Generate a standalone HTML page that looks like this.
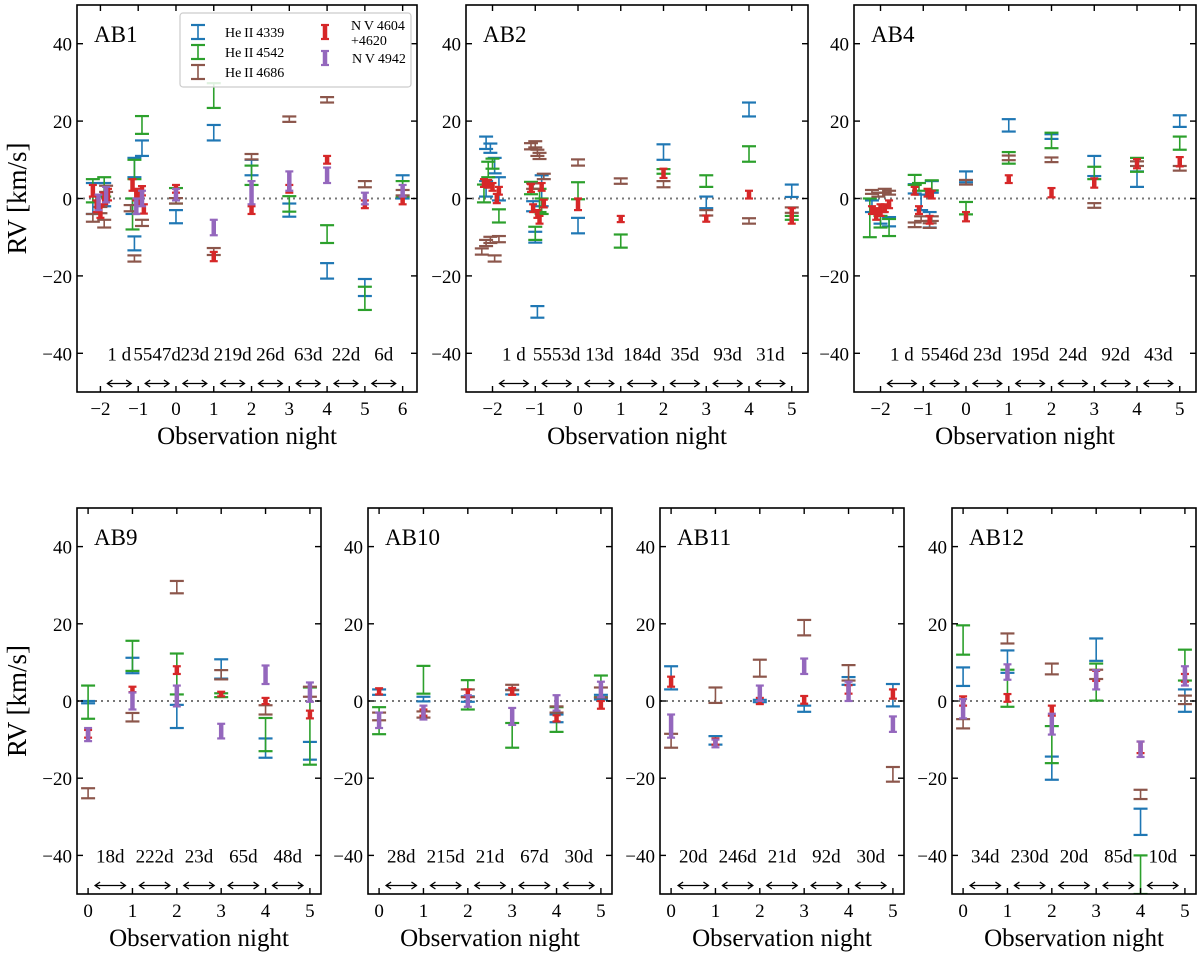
<!DOCTYPE html>
<html><head><meta charset="utf-8">
<style>
html,body{margin:0;padding:0;background:#fff;}
svg{display:block;font-family:"Liberation Serif",serif;}
</style></head>
<body>
<svg id="fig" width="1200" height="957" viewBox="0 0 1200 957" xmlns="http://www.w3.org/2000/svg"></svg>
<script>
// ---- data: [night, rv, err] ----
const ab1Blue=[[-2.2,0,4],[-1.9,1,3],[-1.15,-2,2],[-1.1,8,2.5],[-1.1,-11.6,1.8],[-0.9,13,2],[0,-4.7,1.7],[1,17,2],[2,8,2],[3,-3,1.7],[4,-18.7,2],[5,-23,2.2],[6,3,3]];
const ab1Green=[[-2.2,2,3],[-1.9,3,2.5],[-1.1,7.5,2.5],[-1.15,-4,4],[-0.9,19,2.3],[0,0.7,2],[1,26.6,3.2],[2,6,2.5],[3,-1.4,2],[4,-9.2,2.3],[5,-25.8,3],[6,2.5,2]];
const ab1Brown=[[-2.2,-5,1],[-2.0,-3,0.8],[-1.9,-6.5,1],[-1.85,2.5,0.8],[-1.2,-2.5,0.8],[-1.1,-15.5,0.8],[-0.9,-6.3,0.8],[0,-0.6,0.7],[1,-13.7,0.9],[2,10.8,0.7],[3,20.5,0.7],[4,25.5,0.7],[5,3.7,0.8],[6,1.5,0.7]];
const ab1Red=[[-2.2,2,1.5],[-2.1,-2,1.5],[-2.0,-3.5,1.5],[-1.9,0,1.5],[-1.8,1,1.5],[-1.15,3.5,1.5],[-1.05,1,1.5],[-0.95,0,1.5],[-0.9,2,1.2],[-0.85,-2.7,1.2],[0,2.5,1],[1,-15,1.2],[2,-3,1],[3,2.5,1],[4,10,1],[5,-1.5,1],[6,-0.5,1]];
const ab1Purple=[[-2.05,-1,2],[-1.85,1,2],[-1.05,-2,2],[-0.9,0,2],[0,1,1.5],[1,-7.5,2],[2,1.5,3],[3,4.5,2.5],[4,6,2],[5,0,1.5],[6,2,1.5]];

const ab2Blue=[[-2.15,14.4,1.6],[-2.05,13,1.2],[-2.15,2.5,2],[-1.95,8.5,2],[-1.85,2.5,3],[-1.05,-2,1.3],[-1.0,-10,1.4],[-0.95,-29.3,1.5],[-0.85,2,4],[0,-7,2],[2,12,2],[3,-1,1.5],[4,23,1.8],[5,2,1.6]];
const ab2Green=[[-2.2,1.3,2.3],[-2.1,7.5,2],[-2.0,9,1.3],[-1.85,-4.5,1.7],[-1.1,2.7,1.6],[-1.0,-9,1.7],[-0.9,-0.5,3],[-0.85,-2,2],[0,2,2.2],[1,-11,1.7],[2,7,0.6],[3,4.5,1.5],[4,11.5,2],[5,-5,0.5]];
const ab2Brown=[[-2.25,-13.7,0.8],[-2.15,-11.5,0.8],[-2.05,-10.7,0.8],[-1.95,-15.5,0.8],[-1.85,-10.5,0.8],[-1.1,13.5,0.8],[-1.0,14,0.8],[-0.95,11.8,0.8],[-0.9,11,0.8],[-0.8,5.7,0.7],[-1.05,3.2,0.7],[0,9.3,0.8],[1,4.5,0.7],[2,3.7,0.8],[3,-3.7,0.7],[4,-5.8,0.7],[5,-3,0.7]];
const ab2Red=[[-2.2,4,1],[-2.1,3.8,1],[-2.0,3,1],[-1.9,0,1.2],[-1.85,2,1],[-1.1,2.7,1],[-1.05,-2.5,1],[-0.95,-4,1],[-0.9,-5.5,1],[-0.85,3,1],[-0.8,-1.3,1],[0,-1.5,1.5],[1,-5.3,0.8],[2,6.5,1.2],[3,-5.2,0.8],[4,1,1],[5,-4.5,2]];
const ab2Purple=[];

const ab4Blue=[[-2.2,-2,1.5],[-2.0,-5,1.5],[-1.8,-6,1.2],[-1.2,2.5,1.2],[-1.05,-1,2],[-0.85,-5.5,2],[-0.8,3,1.5],[0,5.6,1.4],[1,18.9,1.6],[2,16,0.6],[3,8.4,2.6],[4,5,2],[5,20,1.5]];
const ab4Green=[[-2.25,-5,5],[-2.0,-6,1.5],[-1.8,-7.5,2.2],[-1.2,4.8,1.3],[-1.1,3,1],[-0.8,3.4,1.3],[0,-2.5,1.6],[1,10.5,1.5],[2,15,2],[3,6.6,1.6],[4,8.7,1.8],[5,14.3,1.7]];
const ab4Brown=[[-2.2,1.7,0.5],[-2.05,1,0.5],[-1.9,2,0.5],[-1.8,1.5,0.5],[-1.2,-6.8,0.6],[-1.05,-5.2,0.6],[-0.85,-7,0.6],[-0.8,-5.2,0.6],[0,4.2,0.6],[1,10.5,0.6],[2,10,0.6],[3,-1.8,0.6],[4,9,0.6],[5,7.8,0.6]];
const ab4Red=[[-2.2,-3,1],[-2.1,-4,1.5],[-2.0,-3,1.5],[-1.9,-2.5,1],[-1.8,-1.5,1],[-1.2,2,1],[-1.1,-3,1],[-0.9,1.5,1],[-0.85,-5.5,1],[-0.8,1,1],[0,-4.7,1.2],[1,5,1],[2,1.5,1.2],[3,4,1.2],[4,9,1.2],[5,9.5,1.2]];
const ab4Purple=[];

const ab9Blue=[[0,-0.3,0.3],[1,9.2,2],[2,-4,3],[3,8.3,2.5],[4,-12.2,2.5],[5,-12.9,2.3]];
const ab9Green=[[0,-0.3,4.3],[1,11.7,3.9],[2,7,5.3],[3,1.5,0.5],[4,-8.7,4.3],[5,-6.5,10]];
const ab9Brown=[[0,-23.9,1.3],[1,-4.2,1.1],[2,29.5,1.6],[3,6.8,1.2],[4,-2.3,1.2],[5,2.4,1.3]];
const ab9Red=[[0,-8.5,1],[1,3,0.7],[2,8,1],[3,1.8,0.6],[4,0,0.8],[5,-3.5,1]];
const ab9Purple=[[0,-8.7,1.7],[1,0,2.2],[2,1.3,2.7],[3,-7.8,1.9],[4,6.8,2.4],[5,2.3,2.5]];

const ab10Blue=[[0,2.3,0.7],[1,0.5,0.6],[2,0.5,0.7],[3,2.3,0.6],[4,-4.5,1],[5,1,0.6]];
const ab10Green=[[0,-5.1,3.5],[1,5.5,3.6],[2,1.6,3.8],[3,-8.9,3.2],[4,-4.8,3.2],[5,3.8,2.8]];
const ab10Brown=[[0,-4,1],[1,-3.5,0.8],[2,2,1],[3,3.5,0.7],[4,-2.2,0.8],[5,2.2,1.3]];
const ab10Red=[[0,2.5,0.8],[1,-3,0.8],[2,2,1],[3,2.5,0.9],[4,-4.5,0.8],[5,-1,1]];
const ab10Purple=[[0,-5,2],[1,-3,1.8],[2,0,1.5],[3,-4,2.2],[4,-0.5,2],[5,3,2]];

const ab11Blue=[[0,6,3],[1,-10.2,1.1],[2,0,0.3],[3,-2,0.8],[4,5.2,1],[5,1.5,2.9]];
const ab11Green=[];
const ab11Brown=[[0,-10.3,1.8],[1,1.5,2],[2,8.5,2.2],[3,19,2],[4,7.3,2],[5,-19,1.9]];
const ab11Red=[[0,5,1.3],[1,-10.5,0.8],[2,0,0.8],[3,0.3,1],[4,3,1.1],[5,1.8,1.2]];
const ab11Purple=[[0,-6.5,3],[1,-11,1],[2,2,2],[3,9,2],[4,2.5,2.5],[5,-6,2]];

const ab12Blue=[[0,6.3,2.4],[1,10.2,2.9],[2,-17.4,3],[3,13.3,2.9],[4,-31.3,3.4],[5,0.1,2.9]];
const ab12Green=[[0,15.8,3.8],[1,3.3,4.8],[2,-11.3,4.8],[3,4.9,4.8],[4,-45,5],[5,9.3,4]];
const ab12Brown=[[0,-5.9,1.2],[1,16.2,1.3],[2,8.3,1.4],[3,6.9,1.2],[4,-24.2,1.2],[5,0.3,1.1]];
const ab12Red=[[0,0,1.2],[1,0.8,1],[2,-2.5,1.3],[3,6.5,1.3],[4,-12,1.5],[5,6,1]];
const ab12Purple=[[0,-2,2.5],[1,7.5,2],[2,-6,2.7],[3,5.5,2.5],[4,-12.5,2],[5,6.5,2.5]];

const ab1Gaps=["1 d","5547d","23d","219d","26d","63d","22d","6d"];
const ab2Gaps=["1 d","5553d","13d","184d","35d","93d","31d"];
const ab4Gaps=["1 d","5546d","23d","195d","24d","92d","43d"];
const ab9Gaps=["18d","222d","23d","65d","48d"];
const ab10Gaps=["28d","215d","21d","67d","30d"];
const ab11Gaps=["20d","246d","21d","92d","30d"];
const ab12Gaps=["34d","230d","20d","85d","10d"];
const yTicks=[-40,-20,0,20,40];

const COL={blue:"#1f77b4",green:"#2ca02c",brown:"#8c564b",red:"#d62728",purple:"#9467bd"};
const NS="http://www.w3.org/2000/svg";
const svg=document.getElementById("fig");
function mk(tag,attrs,parent){const e=document.createElementNS(NS,tag);for(const k in attrs)e.setAttribute(k,attrs[k]);(parent||svg).appendChild(e);return e;}

function panel(cfg){
  const g=mk("g",{});
  
  
  const L=cfg.l,R=cfg.r,T=cfg.t,B=cfg.b;
  const sx=v=>L+(v-cfg.x0)/(cfg.x1-cfg.x0)*(R-L);
  const sy=v=>B-(v+50)/100*(B-T);
  const zl=mk("line",{x1:L,x2:R,y1:sy(0),y2:sy(0),stroke:"#777","stroke-width":2,"stroke-dasharray":"2,4"},g);
  
  
  const series=[["he4339",cfg.blue,COL.blue,false],["he4542",cfg.green,COL.green,false],["he4686",cfg.brown,COL.brown,false],["nv4604",cfg.red,COL.red,true],["nv4942",cfg.purple,COL.purple,true]];
  const clipId="clip"+cfg.name;
  const cp=mk("clipPath",{id:clipId},g);mk("rect",{x:L,y:T,width:R-L,height:B-T},cp);
  series.forEach(([nm,data,c,thick])=>{
    const sg=mk("g",{"clip-path":"url(#"+clipId+")"},g);
    
    
    data.forEach(d=>{
      const x=sx(d[0]),y1=sy(d[1]-d[2]),y2=sy(d[1]+d[2]);
      const eb=mk("g",{},sg);
      
      
      const cw=thick?4:7;
      mk("line",{x1:x,x2:x,y1:y1,y2:y2,stroke:c,"stroke-width":thick?4.5:1.6},eb);
      mk("line",{x1:x-cw,x2:x+cw,y1:y1,y2:y1,stroke:c,"stroke-width":2.2},eb);
      mk("line",{x1:x-cw,x2:x+cw,y1:y2,y2:y2,stroke:c,"stroke-width":2.2},eb);
    });
  });
  const fr=mk("rect",{x:L,y:T,width:R-L,height:B-T,fill:"none",stroke:"#000","stroke-width":1.6},g);
  
  
  for(let v=Math.ceil(cfg.x0);v<=cfg.x1;v++){
    const x=sx(v);
    mk("line",{x1:x,x2:x,y1:B,y2:B-6,stroke:"#000","stroke-width":1.4},g);
    mk("line",{x1:x,x2:x,y1:T,y2:T+6,stroke:"#000","stroke-width":1.4},g);
    const t=mk("text",{x:x,y:B+23,"text-anchor":"middle","font-size":19},g);
    t.textContent=(v<0?"\u2212":"")+Math.abs(v);
    
    
  }
  yTicks.forEach(v=>{
    const y=sy(v);
    mk("line",{x1:L,x2:L+6,y1:y,y2:y,stroke:"#000","stroke-width":1.4},g);
    mk("line",{x1:R,x2:R-6,y1:y,y2:y,stroke:"#000","stroke-width":1.4},g);
    const t=mk("text",{x:L-5,y:y+7,"text-anchor":"end","font-size":19},g);
    t.textContent=(v<0?"\u2212":"")+Math.abs(v);
    
    
  });
  const first=Math.ceil(cfg.x0);
  cfg.gaps.forEach((s,i)=>{
    const xa=sx(first+i),xb=sx(first+i+1),xm=(xa+xb)/2;
    const t=mk("text",{x:xm,y:sy(-41.8),"text-anchor":"middle","font-size":19},g);
    t.textContent=s;
    
    
    const ay=sy(-47.8),a0=xa+7,a1=xb-7;
    const ar=mk("path",{d:`M${a0} ${ay}H${a1}M${a0+5} ${ay-3.5}L${a0} ${ay}L${a0+5} ${ay+3.5}M${a1-5} ${ay-3.5}L${a1} ${ay}L${a1-5} ${ay+3.5}`,fill:"none",stroke:"#000","stroke-width":1.3},g);
    
    
  });
  const tt=mk("text",{x:L+17,y:T+37,"font-size":23},g);
  tt.textContent=cfg.name;
  
  
  const xl=mk("text",{x:(L+R)/2,y:B+52,"text-anchor":"middle","font-size":25},g);
  xl.textContent="Observation night";
  
  
  if(cfg.ylabel){
    const yl=mk("text",{x:0,y:0,"text-anchor":"middle","font-size":27,transform:`translate(26,${(T+B)/2}) rotate(-90)`},g);
    yl.textContent="RV [km/s]";
    
    
  }
  return {sx,sy};
}

panel({name:"AB1",l:77,r:417,t:5,b:392,x0:-2.62,x1:6.38,blue:ab1Blue,green:ab1Green,brown:ab1Brown,red:ab1Red,purple:ab1Purple,gaps:ab1Gaps,ylabel:true});
panel({name:"AB2",l:466,r:808,t:5,b:392,x0:-2.62,x1:5.38,blue:ab2Blue,green:ab2Green,brown:ab2Brown,red:ab2Red,purple:ab2Purple,gaps:ab2Gaps});
panel({name:"AB4",l:854,r:1196,t:5,b:392,x0:-2.62,x1:5.38,blue:ab4Blue,green:ab4Green,brown:ab4Brown,red:ab4Red,purple:ab4Purple,gaps:ab4Gaps});
panel({name:"AB9",l:77,r:321,t:508,b:894,x0:-0.25,x1:5.25,blue:ab9Blue,green:ab9Green,brown:ab9Brown,red:ab9Red,purple:ab9Purple,gaps:ab9Gaps,ylabel:true});
panel({name:"AB10",l:368,r:612,t:508,b:894,x0:-0.25,x1:5.25,blue:ab10Blue,green:ab10Green,brown:ab10Brown,red:ab10Red,purple:ab10Purple,gaps:ab10Gaps});
panel({name:"AB11",l:660,r:904,t:508,b:894,x0:-0.25,x1:5.25,blue:ab11Blue,green:ab11Green,brown:ab11Brown,red:ab11Red,purple:ab11Purple,gaps:ab11Gaps});
panel({name:"AB12",l:952,r:1196,t:508,b:894,x0:-0.25,x1:5.25,blue:ab12Blue,green:ab12Green,brown:ab12Brown,red:ab12Red,purple:ab12Purple,gaps:ab12Gaps});

const lg=mk("g",{});


mk("rect",{x:180,y:13,width:231,height:74,rx:3,fill:"#fff","fill-opacity":0.85,stroke:"#ccc","stroke-width":1.2},lg);
const legItems=[["He\u2009II\u20094339",COL.blue,198,32,false],["He\u2009II\u20094542",COL.green,198,52,false],["He\u2009II\u20094686",COL.brown,198,72,false],["N\u2009V\u20094942",COL.purple,325,58,true]];
legItems.forEach(([txt,c,x,y,thick])=>{
  const e=mk("g",{},lg);
  
  
  const cw=thick?4:7;
  mk("line",{x1:x,x2:x,y1:y-7,y2:y+7,stroke:c,"stroke-width":thick?4.5:1.6},e);
  mk("line",{x1:x-cw,x2:x+cw,y1:y-7,y2:y-7,stroke:c,"stroke-width":2.2},e);
  mk("line",{x1:x-cw,x2:x+cw,y1:y+7,y2:y+7,stroke:c,"stroke-width":2.2},e);
  const t=mk("text",{x:x+27,y:y+5,"font-size":14},e);
  t.textContent=txt;
});
{
  const e=mk("g",{},lg);
  
  
  const x=325,y=32;
  mk("line",{x1:x,x2:x,y1:y-7,y2:y+7,stroke:COL.red,"stroke-width":4.5},e);
  mk("line",{x1:x-4,x2:x+4,y1:y-7,y2:y-7,stroke:COL.red,"stroke-width":2.2},e);
  mk("line",{x1:x-4,x2:x+4,y1:y+7,y2:y+7,stroke:COL.red,"stroke-width":2.2},e);
  const t1=mk("text",{x:351,y:30,"font-size":14},e);t1.textContent="N\u2009V\u20094604";
  const t2=mk("text",{x:351,y:45,"font-size":14},e);t2.textContent="+4620";
}
</script>
</body></html>
